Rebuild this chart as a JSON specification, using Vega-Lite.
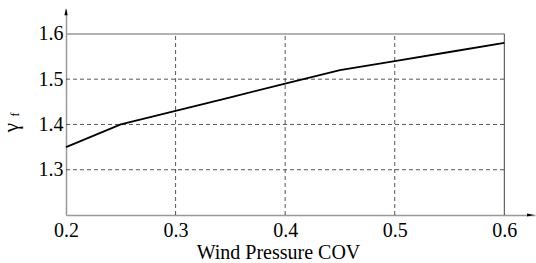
{
  "$schema": "https://vega.github.io/schema/vega-lite/v6.json",
  "width": 469,
  "height": 206,
  "autosize": "none",
  "padding": {"left": 66, "top": 9, "right": 1, "bottom": 48},
  "config": {
    "view": {"stroke": null},
    "font": "Times New Roman, Liberation Serif, serif",
    "axis": {"labelFont": "Times New Roman, Liberation Serif, serif", "titleFont": "Times New Roman, Liberation Serif, serif"}
  },
  "datasets": {
    "curve": [
      {"x": 0.2, "y": 1.35},
      {"x": 0.25, "y": 1.40},
      {"x": 0.3, "y": 1.43},
      {"x": 0.35, "y": 1.46},
      {"x": 0.4, "y": 1.49},
      {"x": 0.45, "y": 1.52},
      {"x": 0.5, "y": 1.54},
      {"x": 0.55, "y": 1.56},
      {"x": 0.6, "y": 1.58}
    ],
    "hgrid": [
      {"x": 0.2, "x2": 0.6, "y": 1.3},
      {"x": 0.2, "x2": 0.6, "y": 1.4},
      {"x": 0.2, "x2": 0.6, "y": 1.5}
    ],
    "vgrid": [
      {"x": 0.3, "y": 1.2, "y2": 1.6},
      {"x": 0.4, "y": 1.2, "y2": 1.6},
      {"x": 0.5, "y": 1.2, "y2": 1.6}
    ],
    "topborder": [{"x": 0.2, "x2": 0.6, "y": 1.6}],
    "rightborder": [{"x": 0.6, "y": 1.2, "y2": 1.6}],
    "arrowx": [{"x": 0.624, "y": 1.2}],
    "arrowy": [{"x": 0.2, "y": 1.649}],
    "sub": [{"x": 0.2, "y": 1.4, "t": "f"}]
  },
  "encoding": {
    "x": {
      "field": "x",
      "type": "quantitative",
      "scale": {"domain": [0.2, 0.628], "nice": false, "zero": false},
      "axis": {
        "values": [0.2, 0.3, 0.4, 0.5, 0.6],
        "format": ".1f",
        "grid": false,
        "ticks": false,
        "domainColor": "#999999",
        "domainWidth": 1.5,
        "labelFontSize": 20,
        "labelColor": "#000000",
        "labelPadding": 5,
        "labelFlush": false,
        "labelOverlap": false,
        "title": "Wind Pressure COV",
        "titleFontSize": 20,
        "titleFontWeight": "normal",
        "titleColor": "#000000",
        "titleX": 212,
        "titleY": 37,
        "titleBaseline": "middle"
      }
    },
    "y": {
      "field": "y",
      "type": "quantitative",
      "scale": {"domain": [1.2, 1.655], "nice": false, "zero": false},
      "axis": {
        "values": [1.3, 1.4, 1.5, 1.6],
        "format": ".1f",
        "grid": false,
        "ticks": false,
        "domainColor": "#999999",
        "domainWidth": 1.5,
        "labelFontSize": 20,
        "labelColor": "#000000",
        "labelPadding": 3,
        "labelFlush": false,
        "labelOverlap": false,
        "title": "γ",
        "titleFontSize": 21,
        "titleFontWeight": "normal",
        "titleColor": "#000000",
        "titleAngle": 270,
        "titleX": -55,
        "titleY": 118,
        "titleAlign": "center",
        "titleBaseline": "middle"
      }
    }
  },
  "layer": [
    {
      "data": {"name": "hgrid"},
      "mark": {"type": "rule", "color": "#555555", "strokeWidth": 1, "strokeDash": [4, 3]},
      "encoding": {"x2": {"field": "x2"}}
    },
    {
      "data": {"name": "vgrid"},
      "mark": {"type": "rule", "color": "#555555", "strokeWidth": 1, "strokeDash": [4, 3]},
      "encoding": {"y2": {"field": "y2"}}
    },
    {
      "data": {"name": "topborder"},
      "mark": {"type": "rule", "color": "#999999", "strokeWidth": 1.5},
      "encoding": {"x2": {"field": "x2"}}
    },
    {
      "data": {"name": "rightborder"},
      "mark": {"type": "rule", "color": "#444444", "strokeWidth": 1},
      "encoding": {"y2": {"field": "y2"}}
    },
    {
      "data": {"name": "curve"},
      "mark": {"type": "line", "color": "#000000", "strokeWidth": 1.8}
    },
    {
      "data": {"name": "arrowx"},
      "mark": {"type": "point", "shape": "M-1,-0.45L1,0L-1,0.45Z", "filled": true, "color": "#000000", "size": 50, "opacity": 1}
    },
    {
      "data": {"name": "arrowy"},
      "mark": {"type": "point", "shape": "M-0.45,1L0,-1L0.45,1Z", "filled": true, "color": "#000000", "size": 50, "opacity": 1}
    },
    {
      "data": {"name": "sub"},
      "mark": {"type": "text", "angle": 270, "dx": 10, "dy": -51, "fontSize": 12, "color": "#000000", "align": "center", "baseline": "middle"},
      "encoding": {"text": {"field": "t"}}
    }
  ]
}
